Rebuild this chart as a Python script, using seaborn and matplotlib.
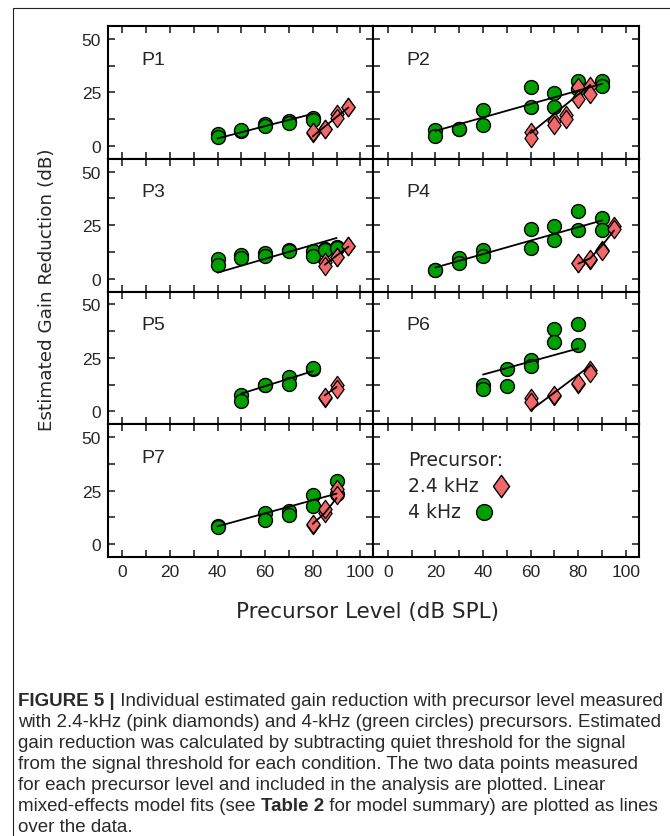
import matplotlib
matplotlib.use("Agg")
import matplotlib.pyplot as plt
import pandas as pd
import seaborn as sns
from matplotlib.lines import Line2D
from matplotlib.path import Path

# values, one entry per listener
PANELS = ["P1", "P2", "P3", "P4", "P5", "P6", "P7"]

LEVEL_4K = {
    "P1": [40, 40, 50, 50, 60, 60, 70, 70, 80, 80],
    "P2": [20, 20, 30, 30, 40, 40, 60, 60, 70, 70, 80, 80, 90, 90],
    "P3": [40, 40, 50, 50, 60, 60, 70, 70, 80, 80, 85, 85, 90, 90],
    "P4": [20, 20, 30, 30, 40, 40, 60, 60, 70, 70, 80, 80, 90, 90],
    "P5": [50, 50, 60, 60, 70, 70, 80, 80],
    "P6": [40, 40, 50, 50, 60, 60, 70, 70, 80, 80],
    "P7": [40, 40, 60, 60, 70, 70, 80, 80, 90, 90],
}
GAIN_4K = {
    "P1": [5.5, 4.2, 7.0, 7.3, 10.2, 9.4, 11.7, 10.6, 12.8, 12.0],
    "P2": [7.3, 4.7, 7.7, 7.9, 16.9, 9.8, 27.3, 18.0, 24.5, 18.0, 30.5, 26.6, 30.2, 28.1],
    "P3": [9.1, 6.3, 11.0, 9.7, 11.8, 10.7, 13.4, 13.0, 13.1, 10.7, 13.8, 13.2, 14.6, 14.2],
    "P4": [3.9, 4.2, 9.6, 7.1, 13.5, 10.7, 23.0, 14.2, 24.8, 18.2, 31.4, 22.8, 28.3, 22.5],
    "P5": [7.8, 4.7, 12.2, 12.4, 16.1, 13.0, 20.0, 20.2],
    "P6": [12.2, 10.6, 19.7, 11.7, 23.9, 21.3, 38.4, 32.5, 40.8, 30.9],
    "P7": [8.6, 8.0, 14.6, 11.5, 15.4, 13.4, 22.8, 17.6, 29.6, 23.6],
}
LEVEL_24K = {
    "P1": [80, 80, 85, 85, 90, 90, 95, 95],
    "P2": [60, 60, 70, 70, 75, 75, 80, 80, 85, 85],
    "P3": [85, 85, 90, 90, 95, 95],
    "P4": [80, 80, 85, 85, 90, 90, 95, 95],
    "P5": [85, 85, 90, 90],
    "P6": [60, 60, 70, 70, 80, 80, 85, 85],
    "P7": [80, 80, 85, 85, 90, 90],
}
GAIN_24K = {
    "P1": [5.8, 6.3, 7.7, 7.9, 14.8, 12.8, 18.3, 18.0],
    "P2": [6.3, 3.9, 11.7, 9.8, 14.5, 12.5, 27.3, 21.9, 28.1, 24.2],
    "P3": [7.9, 6.0, 9.9, 10.3, 15.1, 15.4],
    "P4": [7.1, 7.4, 8.8, 9.0, 13.5, 13.0, 24.5, 23.0],
    "P5": [6.4, 6.6, 12.2, 10.6],
    "P6": [6.3, 4.4, 7.2, 7.5, 13.0, 13.3, 19.2, 18.1],
    "P7": [9.1, 9.3, 14.6, 16.2, 25.9, 23.1],
}

# model fit lines (level, gain)
FIT_4K_X = {"P1": [40, 80], "P2": [20, 90], "P3": [40, 90], "P4": [20, 90],
            "P5": [50, 80], "P6": [40, 80], "P7": [40, 90]}
FIT_4K_Y = {"P1": [3.5, 15.0], "P2": [7.0, 29.0], "P3": [2.8, 19.0], "P4": [5.2, 27.2],
            "P5": [8.3, 18.8], "P6": [17.2, 29.4], "P7": [8.3, 23.6]}
FIT_24K_X = {"P1": [80, 95], "P2": [60, 85], "P3": [85, 95], "P4": [80, 85, 90, 95],
             "P5": [85, 90], "P6": [60, 85], "P7": [80, 85, 90]}
FIT_24K_Y = {"P1": [4.5, 18.0], "P2": [6.0, 28.5], "P3": [6.5, 15.0], "P4": [7.0, 9.5, 15.5, 22.5],
             "P5": [7.5, 11.4], "P6": [0.5, 21.3], "P7": [9.5, 14.5, 21.5]}

X_TICKS = [0, 10, 20, 30, 40, 50, 60, 70, 80, 90, 100]
Y_TICKS = [0, 12.5, 25, 37.5, 50]
Y_TICK_LABELS = ["0", "", "25", "", "50"]

GREEN = "#00a000"
PINK = "#f26767"
LABEL_FONT = "DejaVu Sans"

# diamond a bit wider than matplotlib's thin "d"
DIAMOND = Path([(0, 1), (0.72, 0), (0, -1), (-0.72, 0), (0, 1)],
               [Path.MOVETO, Path.LINETO, Path.LINETO, Path.LINETO, Path.CLOSEPOLY])

rows = []
for p in PANELS:
    for lv, g in zip(LEVEL_4K[p], GAIN_4K[p]):
        rows.append((p, "4 kHz", lv, g))
    for lv, g in zip(LEVEL_24K[p], GAIN_24K[p]):
        rows.append((p, "2.4 kHz", lv, g))
df = pd.DataFrame(rows, columns=["listener", "precursor", "level", "gain"])

sns.set_style("ticks")
plt.rcParams["font.family"] = ["Liberation Sans", "DejaVu Sans"]

fig = plt.figure(figsize=(6.7, 8.37), dpi=100)
W, H = 670, 837
left, right = 108 / W, 639 / W
top, bottom = 1 - 27 / H, 1 - 558 / H
w = (right - left) / 2
h = (top - bottom) / 4

for i in range(8):
    r, c = divmod(i, 2)
    ax = fig.add_axes([left + c * w, top - (r + 1) * h, w, h])

    if i < len(PANELS):
        p = PANELS[i]
        sub = df[df["listener"] == p]
        sns.scatterplot(data=sub[sub["precursor"] == "4 kHz"], x="level", y="gain",
                        marker="o", s=100, color=GREEN, edgecolor="black",
                        linewidth=1.0, ax=ax, zorder=2)
        sns.scatterplot(data=sub[sub["precursor"] == "2.4 kHz"], x="level", y="gain",
                        marker=DIAMOND, s=175, color=PINK, edgecolor="black",
                        linewidth=0.9, ax=ax, zorder=3)
        sns.lineplot(x=FIT_4K_X[p], y=FIT_4K_Y[p], color="black", linewidth=1.3,
                     estimator=None, sort=False, ax=ax, zorder=4)
        sns.lineplot(x=FIT_24K_X[p], y=FIT_24K_Y[p], color="black", linewidth=1.3,
                     estimator=None, sort=False, ax=ax, zorder=4)
        ax.text(0.125, 0.75, p, transform=ax.transAxes, fontsize=14, va="center", ha="left")
    else:
        # key panel
        kw = dict(transform=ax.transAxes, family=LABEL_FONT, fontsize=13.5, va="center", ha="left")
        ax.text(0.13, 0.735, "Precursor:", **kw)
        ax.text(0.13, 0.538, "2.4 kHz", **kw)
        ax.text(0.13, 0.341, "4 kHz", **kw)
        ax.scatter([0.48], [0.538], marker=DIAMOND, s=260, color=PINK, edgecolor="black",
                   linewidth=1.0, transform=ax.transAxes, zorder=3)
        ax.scatter([0.417], [0.341], marker="o", s=130, color=GREEN, edgecolor="black",
                   linewidth=1.0, transform=ax.transAxes, zorder=3)

    ax.set_xlim(-6, 105.5)
    ax.set_ylim(-6, 56)
    ax.set_xticks(X_TICKS)
    ax.set_xticklabels([str(t) if t % 20 == 0 else "" for t in X_TICKS])
    ax.set_yticks(Y_TICKS)
    ax.set_yticklabels(Y_TICK_LABELS)
    ax.set_xlabel("")
    ax.set_ylabel("")
    ax.tick_params(direction="in", top=True, right=True, length=5, width=1.2,
                   labelsize=12.5, pad=5,
                   labelleft=(c == 0), labelbottom=(r == 3))
    for s in ax.spines.values():
        s.set_linewidth(1.5)
        s.set_color("black")

fig.text(47 / W, 1 - 290 / H, "Estimated Gain Reduction (dB)", rotation=90,
         ha="center", va="center", family=LABEL_FONT, fontsize=13.2)
fig.text(367 / W, 1 - 612 / H, "Precursor Level (dB SPL)",
         ha="center", va="center", family=LABEL_FONT, fontsize=15.5)

# frame around the figure
fig.add_artist(Line2D([13 / W, 1.0], [1 - 9 / H, 1 - 9 / H], transform=fig.transFigure,
                      color="#222222", linewidth=0.8))
fig.add_artist(Line2D([13 / W, 13 / W], [1 - 9 / H, 0.0], transform=fig.transFigure,
                      color="#222222", linewidth=0.8))

# caption
caption = [
    [("FIGURE 5 |", True), (" Individual estimated gain reduction with precursor level measured", False)],
    [("with 2.4-kHz (pink diamonds) and 4-kHz (green circles) precursors. Estimated", False)],
    [("gain reduction was calculated by subtracting quiet threshold for the signal", False)],
    [("from the signal threshold for each condition. The two data points measured", False)],
    [("for each precursor level and included in the analysis are plotted. Linear", False)],
    [("mixed-effects model fits (see ", False), ("Table 2", True),
     (" for model summary) are plotted as lines", False)],
    [("over the data.", False)],
]
renderer = fig.canvas.get_renderer()
for k, parts in enumerate(caption):
    x = 18 / W
    y = 1 - (706 + 21 * k) / H
    for txt, bold in parts:
        t = fig.text(x, y, txt, fontsize=13.5, va="baseline", ha="left", color="#2a2a2a",
                     fontweight="bold" if bold else "normal")
        x = t.get_window_extent(renderer).x1 / fig.bbox.width

fig.savefig("out.png", dpi=100)
